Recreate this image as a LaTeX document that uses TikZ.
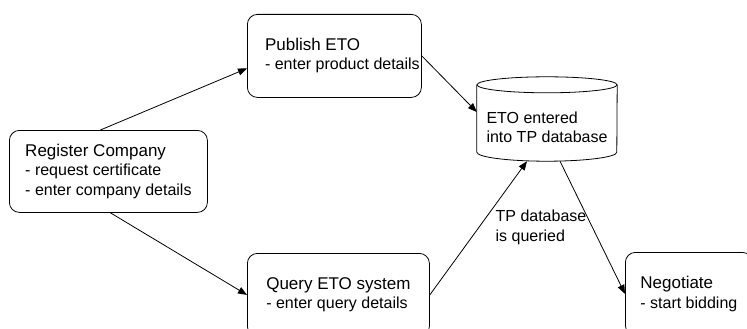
\documentclass[tikz,border=0pt]{standalone}
\usepackage{fontspec}
\setmainfont{Liberation Sans}
\usetikzlibrary{arrows.meta}

\newcommand{\steptitle}[1]{{\fontsize{17}{19}\selectfont #1}}

\begin{document}
\begin{tikzpicture}[x=1pt,y=-1pt,
  font=\fontsize{16}{19.2}\selectfont,
  stepbox/.style={draw,rounded corners=10pt,align=left,anchor=north west,
    inner xsep=15pt,minimum height=83pt,line width=0.8pt},
  flow/.style={-{Triangle[length=9pt,width=7pt]},line width=0.8pt}]

  \useasboundingbox (0,0) rectangle (747,329);
  \clip (0,0) rectangle (747,329);

  % Steps

  \node [stepbox,minimum width=198pt,minimum height=82pt] (reg) at (9,130)
    {\steptitle{Register Company}\\- request certificate\\- enter company details};
  \node [stepbox,minimum width=174pt] (pub) at (247,14)
    {\steptitle{Publish ETO}\\- enter product details\hspace*{-16pt}};
  \node [stepbox,minimum width=182pt] (qry) at (247,253)
    {\steptitle{Query ETO system}\\- enter query details};
  \node [stepbox] (neg) at (625,252)
    {\steptitle{Negotiate}\\- start bidding};

  % TP database

  \node [minimum width=140pt,minimum height=68pt,align=left] (db) at (547,127)
    {ETO entered\\into TP database};
  \draw [line width=0.8pt] ([yshift=8pt]db.north west) -- ([yshift=9pt]db.south west)
    arc [start angle=180,end angle=0,x radius=70,y radius=9]
    -- ([yshift=8pt]db.north east);
  \draw [line width=0.8pt] ([yshift=8pt]db.north) ellipse [x radius=70,y radius=8];

  % Flow

  \draw [flow] ([xshift=-8pt]reg.north) -- ([yshift=-12.5pt]pub.west);
  \draw [flow] ([xshift=2pt]reg.south) -- (qry.west);
  \draw [flow] (pub.east) -- ([yshift=15pt]db.west);
  \draw [flow] (qry.east) -- node [pos=0.673,anchor=north west,inner sep=0pt,
      yshift=-5pt,align=left] (qlbl) {TP database\\is queried}
    ([xshift=-20pt]db.south);
  \draw [flow] ([xshift=13pt]db.south) -- (neg.west);
\end{tikzpicture}
\end{document}
